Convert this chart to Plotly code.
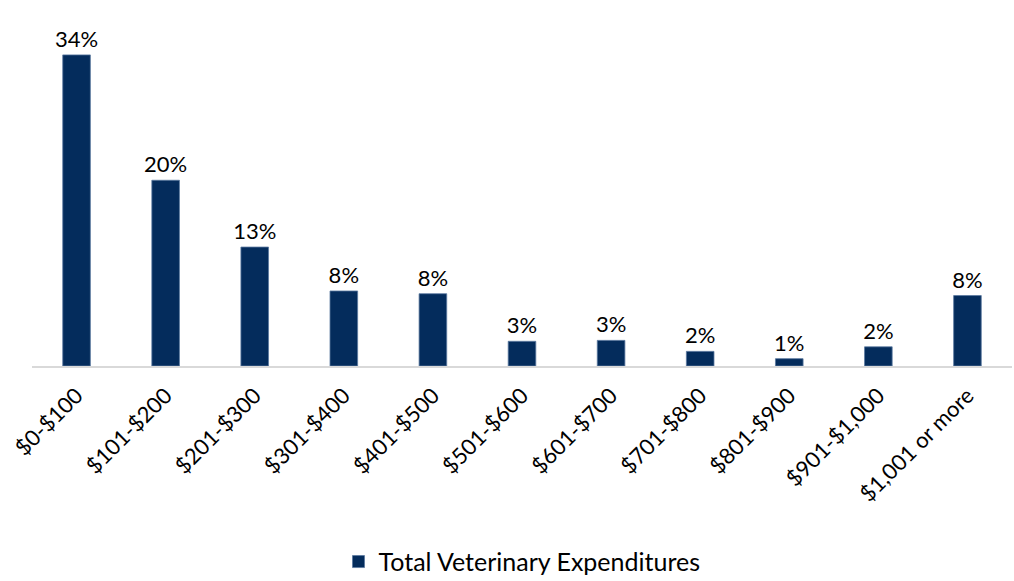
import plotly.graph_objects as go

categories = ["$0-$100", "$101-$200", "$201-$300", "$301-$400", "$401-$500",
              "$501-$600", "$601-$700", "$701-$800", "$801-$900", "$901-$1,000",
              "$1,001 or more"]
values = [34.0, 20.3, 13.0, 8.2, 7.9, 2.7, 2.8, 1.6, 0.8, 2.1, 7.7]
labels = ["34%", "20%", "13%", "8%", "8%", "3%", "3%", "2%", "1%", "2%", "8%"]
series_name = "Total Veterinary Expenditures"

FONT = "Lato"
fig = go.Figure()
fig.add_trace(go.Bar(
    x=categories, y=values, name=series_name,
    text=labels, textposition="outside", cliponaxis=False, constraintext="none",
    textfont=dict(family=FONT, size=22, color="#000000"),
    marker=dict(color="#042C5C", line=dict(color="#5A79A0", width=0.8)),
))
fig.update_layout(
    width=1014, height=581,
    margin=dict(l=32, r=2, t=0, b=215, autoexpand=False),
    paper_bgcolor="white", plot_bgcolor="white",
    bargap=0.69,
    showlegend=True,
    legend=dict(orientation="h", x=0.5, xanchor="center", y=-0.535,
                yanchor="middle", font=dict(family=FONT, size=25, color="#000000")),
    xaxis=dict(tickangle=-45, showline=True, linecolor="#D9D9D9", linewidth=2,
               automargin=False, ticks="outside", ticklen=6, tickcolor="rgba(0,0,0,0)",
               tickfont=dict(family=FONT, size=22, color="#000000")),
    yaxis=dict(range=[0, 40], visible=False, showgrid=False, automargin=False),
)
fig.write_html("out.html", config={"displayModeBar": False},
               post_script="document.body.style.margin='0';document.body.style.overflow='hidden';")
